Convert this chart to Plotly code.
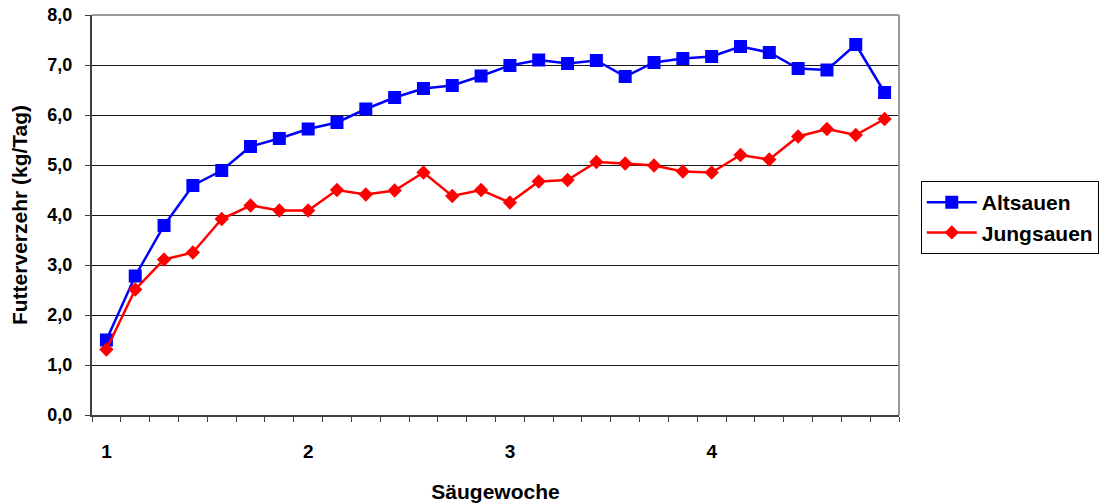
import plotly.graph_objects as go

# Säugetage (1..28) and weekly labels
tage = list(range(1, 29))
wochen_pos = [1, 8, 15, 22]
wochen_label = ["1", "2", "3", "4"]

altsauen = [1.50, 2.78, 3.79, 4.59, 4.89, 5.37, 5.53, 5.72, 5.85, 6.12,
            6.35, 6.53, 6.59, 6.78, 6.99, 7.10, 7.03, 7.09, 6.77, 7.05,
            7.13, 7.17, 7.37, 7.25, 6.93, 6.90, 7.41, 6.45]
jungsauen = [1.31, 2.51, 3.11, 3.25, 3.92, 4.19, 4.09, 4.09, 4.50, 4.41,
             4.49, 4.85, 4.38, 4.50, 4.25, 4.67, 4.70, 5.06, 5.03, 4.99,
             4.87, 4.85, 5.20, 5.11, 5.57, 5.72, 5.60, 5.92]

FONT = "Liberation Sans, Arial, sans-serif"

fig = go.Figure()
fig.add_trace(go.Scatter(
    x=tage, y=altsauen, name="Altsauen", mode="lines+markers",
    line=dict(color="#0000FF", width=2.5),
    marker=dict(symbol="square", size=13, color="#0000FF"),
))
fig.add_trace(go.Scatter(
    x=tage, y=jungsauen, name="Jungsauen", mode="lines+markers",
    line=dict(color="#FF0000", width=2.5),
    marker=dict(symbol="diamond", size=11, color="#FF0000"),
))

fig.update_layout(
    width=1109, height=503,
    margin=dict(l=92, r=210, t=15, b=88, autoexpand=False),
    paper_bgcolor="white", plot_bgcolor="white",
    separators=",.",
    font=dict(family=FONT, size=18, color="black", weight="bold"),
    showlegend=True,
    legend=dict(
        x=1.027, y=0.585, xanchor="left", yanchor="top",
        bordercolor="black", borderwidth=1, bgcolor="white",
        font=dict(family=FONT, size=21, color="black", weight="bold"),
        itemwidth=50,
    ),
    xaxis=dict(
        automargin=False,
        range=[0.5, 28.5], tickmode="array", tickvals=wochen_pos,
        ticktext=wochen_label, ticks="", showgrid=False, zeroline=False,
        showline=True, linecolor="#404040", linewidth=2,
        ticklabelstandoff=18,
        tickfont=dict(family=FONT, size=19, weight="bold"),
        minor=dict(tickmode="linear", tick0=0.5, dtick=1, ticks="outside",
                   ticklen=5, tickcolor="#404040", tickwidth=1, showgrid=False),
        title=dict(text="Säugewoche", standoff=28,
                   font=dict(family=FONT, size=21, weight="bold")),
    ),
    yaxis=dict(
        automargin=False,
        range=[0, 8], dtick=1, tickformat=".1f", ticks="outside", ticklen=5,
        tickcolor="#404040", showgrid=True, gridcolor="#1a1a1a", gridwidth=1,
        zeroline=False, showline=True, linecolor="#404040", linewidth=2,
        ticklabelstandoff=9,
        tickfont=dict(family=FONT, size=18, weight="bold"),
        title=dict(text="Futterverzehr (kg/Tag)", standoff=14,
                   font=dict(family=FONT, size=21, weight="bold")),
    ),
)

# grey frame on top and right of the plot area
fig.add_shape(type="line", xref="paper", yref="paper", x0=0, x1=1, y0=1, y1=1,
              line=dict(color="#9a9a9a", width=2), layer="above")
fig.add_shape(type="line", xref="paper", yref="paper", x0=1, x1=1, y0=0, y1=1,
              line=dict(color="#9a9a9a", width=2), layer="above")

fig.write_html("out.html")
